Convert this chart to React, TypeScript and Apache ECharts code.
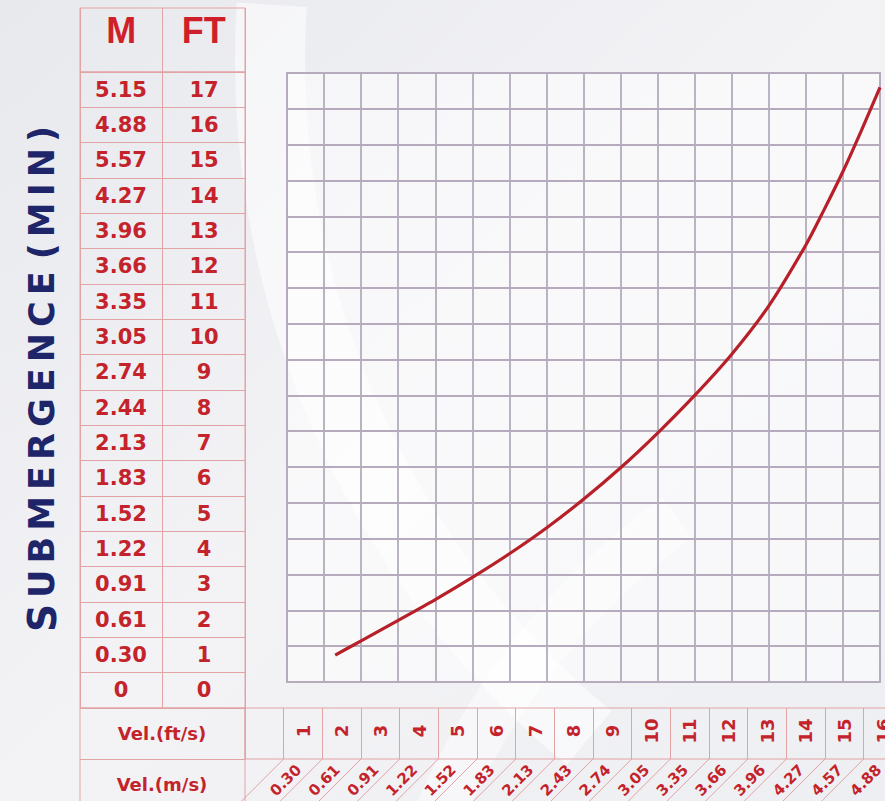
import React, { useEffect, useRef } from 'react';
import * as echarts from 'echarts';

// ---- data ----
const headers = ['M', 'FT'];
const tableFt = ['0', '1', '2', '3', '4', '5', '6', '7', '8', '9', '10', '11', '12', '13', '14', '15', '16', '17'];
const tableM = ['0', '0.30', '0.61', '0.91', '1.22', '1.52', '1.83', '2.13', '2.44', '2.74', '3.05', '3.35', '3.66', '3.96', '4.27', '5.57', '4.88', '5.15'];
const velRowLabels = ['Vel.(m/s)', 'Vel.(ft/s)'];
const ftLabels = ['', '1', '2', '3', '4', '5', '6', '7', '8', '9', '10', '11', '12', '13', '14', '15', '16'];
const msLabels = ['', '0.30', '0.61', '0.91', '1.22', '1.52', '1.83', '2.13', '2.43', '2.74', '3.05', '3.35', '3.66', '3.96', '4.27', '4.57', '4.88'];
const curveVel = [1.3, 2.0, 3.0, 4.0, 5.0, 6.0, 7.0, 8.0, 9.0, 10.0, 11.0, 12.0, 13.0, 14.0, 14.5, 15.0, 15.5, 16.0];
const curveSub = [0.75, 1.15, 1.72, 2.3, 2.92, 3.58, 4.3, 5.1, 5.98, 6.95, 8.0, 9.15, 10.5, 12.2, 13.2, 14.25, 15.4, 16.6];
const titleText = 'SUBMERGENCE (MIN)';

const RED = '#c4232b';
const TABLE_LINE = '#e2a3a5';
const GRID_LINE = '#b5abbc';
const NAVY = '#1e2669';
const NUM_FONT = '"DejaVu Sans", sans-serif';

function buildTitle(): string {
  const parts: string[] = [];
  const chars = titleText.split('');
  chars.forEach((ch, i) => {
    if (ch === ' ') {
      parts.push('{g| }{g| }');
      return;
    }
    const style = i === 0 ? 'big' : 'cap';
    parts.push(`{${style}|${ch}}`);
    if (i < chars.length - 1 && chars[i + 1] !== ' ') parts.push('{g| }');
  });
  return parts.join('');
}

export default function App() {
  const ref = useRef<HTMLDivElement>(null);
  useEffect(() => {
    if (!ref.current) return;
    const chart = echarts.init(ref.current, undefined, { renderer: 'svg' });
    const hiddenAxis = { show: false };
    const option: any = {
      animation: false,
      backgroundColor: {
        type: 'linear', x: 0, y: 0, x2: 1, y2: 1,
        colorStops: [
          { offset: 0, color: '#e8e9ed' },
          { offset: 0.5, color: '#f3f3f6' },
          { offset: 1, color: '#eeeff2' },
        ],
      },
      graphic: [
        {
          type: 'arc', silent: true, z: -10,
          shape: { cx: 1150, cy: 60, r: 880, startAngle: Math.PI * 0.72, endAngle: Math.PI * 1.02 },
          style: { stroke: 'rgba(255,255,255,0.55)', lineWidth: 70, fill: 'none' },
        },
        {
          type: 'arc', silent: true, z: -10,
          shape: { cx: 1100, cy: 1100, r: 720, startAngle: Math.PI * 1.0, endAngle: Math.PI * 1.3 },
          style: { stroke: 'rgba(255,255,255,0.45)', lineWidth: 50, fill: 'none' },
        },
        {
          type: 'text', x: 42, y: 379, rotation: Math.PI / 2, silent: true,
          style: {
            text: buildTitle(),
            align: 'center', verticalAlign: 'middle',
            rich: {
              big: { fontSize: 39, fontWeight: 'bold', fill: NAVY, fontFamily: NUM_FONT },
              cap: { fontSize: 35, fontWeight: 'bold', fill: NAVY, fontFamily: NUM_FONT },
              g: { fontSize: 19, fontFamily: NUM_FONT },
            },
          },
        },
      ],
      grid: [
        { left: 287, top: 73, width: 593, height: 609, show: true, borderColor: GRID_LINE, borderWidth: 1.8, backgroundColor: 'rgba(255,255,255,0.5)', outerBoundsMode: 'none' },
        { left: 80, top: 8, width: 165, height: 64, show: true, borderColor: TABLE_LINE, borderWidth: 1, backgroundColor: 'transparent', outerBoundsMode: 'none' },
        { left: 80, top: 72, width: 165, height: 636, show: true, borderColor: TABLE_LINE, borderWidth: 1, backgroundColor: 'transparent', outerBoundsMode: 'none' },
        { left: 80, top: 708, width: 165, height: 102, show: true, borderColor: TABLE_LINE, borderWidth: 1, backgroundColor: 'transparent', outerBoundsMode: 'none' },
        { left: 245, top: 708, width: 657.4, height: 51, show: true, borderColor: TABLE_LINE, borderWidth: 1, backgroundColor: 'transparent', outerBoundsMode: 'none' },
      ],
      xAxis: [
        {
          type: 'value', gridIndex: 0, min: 0, max: 16, interval: 1,
          axisLabel: { show: false }, axisLine: { show: false }, axisTick: { show: false },
          splitLine: { show: true, lineStyle: { color: GRID_LINE, width: 1.8 } },
        },
        {
          type: 'category', gridIndex: 1, position: 'top', data: headers,
          axisLine: { show: false }, axisTick: { show: false },
          axisLabel: {
            inside: true, margin: 22, verticalAlign: 'middle', interval: 0,
            fontSize: 36, fontWeight: 'bold', color: '#cf1f29',
            fontFamily: '"Liberation Sans Narrow", "Liberation Sans", sans-serif',
          },
          splitLine: { show: true, lineStyle: { color: TABLE_LINE, width: 1 } },
        },
        {
          type: 'category', gridIndex: 2, data: headers,
          axisLabel: { show: false }, axisLine: { show: false }, axisTick: { show: false },
          splitLine: { show: true, lineStyle: { color: TABLE_LINE, width: 1 } },
        },
        { type: 'value', gridIndex: 3, ...hiddenAxis },
        {
          type: 'category', gridIndex: 4, position: 'top', data: ftLabels,
          axisLine: { show: false }, axisTick: { show: false },
          axisLabel: {
            inside: true, rotate: 90, margin: 23, align: 'center', verticalAlign: 'middle', interval: 0,
            fontSize: 18, fontWeight: 'bold', color: RED, fontFamily: NUM_FONT,
          },
          splitLine: { show: true, lineStyle: { color: TABLE_LINE, width: 1 } },
        },
        {
          type: 'category', gridIndex: 4, position: 'bottom', data: msLabels,
          axisLine: { show: false }, axisTick: { show: false },
          axisLabel: {
            rotate: 45, margin: 4, interval: 0, padding: [0, 6, 0, 0],
            fontSize: 15, fontWeight: 'bold', color: RED, fontFamily: NUM_FONT,
          },
          splitLine: { show: false },
        },
      ],
      yAxis: [
        {
          type: 'value', gridIndex: 0, min: 0, max: 17, interval: 1,
          axisLabel: { show: false }, axisLine: { show: false }, axisTick: { show: false },
          splitLine: { show: true, lineStyle: { color: GRID_LINE, width: 1.8 } },
        },
        { type: 'value', gridIndex: 1, ...hiddenAxis },
        {
          type: 'category', gridIndex: 2, position: 'left', data: tableM,
          axisLine: { show: false }, axisTick: { show: false },
          axisLabel: {
            inside: true, margin: 41, align: 'center', verticalAlign: 'middle', interval: 0,
            fontSize: 21, fontWeight: 'bold', color: RED, fontFamily: NUM_FONT,
          },
          splitLine: { show: true, lineStyle: { color: TABLE_LINE, width: 1 } },
        },
        {
          type: 'category', gridIndex: 2, position: 'right', data: tableFt,
          axisLine: { show: false }, axisTick: { show: false },
          axisLabel: {
            inside: true, margin: 41, align: 'center', verticalAlign: 'middle', interval: 0,
            fontSize: 21, fontWeight: 'bold', color: RED, fontFamily: NUM_FONT,
          },
          splitLine: { show: false },
        },
        {
          type: 'category', gridIndex: 3, position: 'left', data: velRowLabels,
          axisLine: { show: false }, axisTick: { show: false },
          axisLabel: {
            inside: true, margin: 82, align: 'center', verticalAlign: 'middle', interval: 0,
            fontSize: 18, fontWeight: 'bold', color: RED, fontFamily: NUM_FONT,
          },
          splitLine: { show: true, lineStyle: { color: TABLE_LINE, width: 1 } },
        },
        { type: 'value', gridIndex: 4, min: 0, max: 1, ...hiddenAxis },
      ],
      series: [
        {
          type: 'line', xAxisIndex: 0, yAxisIndex: 0,
          data: curveVel.map((v, i) => [v, curveSub[i]]),
          smooth: 0.3, showSymbol: false, symbol: 'none',
          lineStyle: { color: '#b71f29', width: 3.2 },
          silent: true,
        },
        {
          type: 'custom', xAxisIndex: 5, yAxisIndex: 5, silent: true,
          data: msLabels.map((_, i) => [i, 0]).slice(1),
          renderItem: (params: any, api: any) => {
            const c = api.coord([api.value(0), api.value(1)]);
            const bw = api.size([1, 0])[0];
            const x0 = c[0] - bw / 2;
            return {
              type: 'line',
              shape: { x1: x0, y1: c[1], x2: x0 - 60, y2: c[1] + 60 },
              style: { stroke: TABLE_LINE, lineWidth: 1 },
            };
          },
        },
      ],
    };
    chart.setOption(option);
    return () => chart.dispose();
  }, []);
  return <div ref={ref} style={{ position: 'fixed', left: 0, top: 0, width: 885, height: 801 }} />;
}
